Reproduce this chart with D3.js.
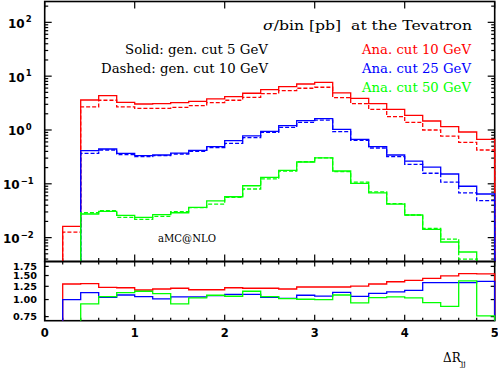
<!DOCTYPE html>
<html lang="en">
<head>
<meta charset="UTF-8">
<title>Delta R jj</title>
<style>
body { margin: 0; background: #fff; }
.lab { font-family: "DejaVu Serif", serif; fill: #000; }
.tick { font-family: "DejaVu Sans", sans-serif; font-weight: bold; fill: #000; }
</style>
</head>
<body>
<script src="https://d3js.org/d3.v7.min.js"></script>
<script>
// bin edges 0..5, width 0.2 (25 bins); 0 = empty bin
var edges = d3.range(26).map(function(i){ return +(i * 0.2).toFixed(1); });

var redSolid   = [0, 0.0162, 3.61, 4.34, 3.27, 3.04, 3.08, 3.22, 3.41, 3.77, 4.16, 4.81, 5.61, 6.38, 7.16, 7.70, 4.9, 3.88, 3.08, 2.42, 1.87, 1.47, 1.15, 0.918, 0.67];
var redDashed  = [0, 0.0126, 2.68, 3.57, 2.68, 2.53, 2.53, 2.64, 2.83, 3.22, 3.57, 4.05, 4.73, 5.38, 5.96, 6.22, 4.0, 3.08, 2.42, 1.77, 1.39, 1.0, 0.77, 0.59, 0.425];
var blueSolid  = [0, 0, 0.413, 0.443, 0.368, 0.333, 0.343, 0.373, 0.419, 0.49, 0.632, 0.774, 0.945, 1.20, 1.49, 1.62, 1.03, 0.67, 0.49, 0.343, 0.265, 0.205, 0.152, 0.090, 0.0646];
var blueDashed = [0, 0, 0.368, 0.425, 0.348, 0.319, 0.333, 0.358, 0.400, 0.469, 0.566, 0.72, 0.906, 1.12, 1.39, 1.53, 0.93, 0.643, 0.463, 0.319, 0.23, 0.157, 0.107, 0.068, 0.0485];
var greenSolid = [0, 0, 0.0275, 0.0308, 0.026, 0.0238, 0.0267, 0.029, 0.0366, 0.048, 0.0575, 0.092, 0.132, 0.178, 0.254, 0.302, 0.173, 0.102, 0.068, 0.042, 0.0263, 0.01426, 0.0083, 0.0054, 0.0026];
var greenDashed= [0, 0, 0.029, 0.0316, 0.0238, 0.0219, 0.0249, 0.0303, 0.036, 0.042, 0.056, 0.08, 0.124, 0.173, 0.257, 0.302, 0.168, 0.107, 0.071, 0.043, 0.0263, 0.0149, 0.0094, 0.0040, 0.0034];

// ratio solid / dashed (lower panel)
var redRatio   = [0, 1.30, 1.31, 1.23, 1.22, 1.175, 1.195, 1.21, 1.18, 1.18, 1.22, 1.21, 1.21, 1.195, 1.236, 1.236, 1.236, 1.256, 1.30, 1.35, 1.38, 1.43, 1.49, 1.55, 1.54];
var blueRatio  = [0, 1.00, 1.124, 1.04, 1.08, 1.05, 1.01, 1.045, 1.045, 1.07, 1.093, 1.093, 1.04, 1.02, 1.075, 1.06, 1.13, 1.055, 1.11, 1.137, 1.167, 1.33, 1.33, 1.33, 1.36];
var greenRatio = [0, 0, 0.93, 1.05, 1.124, 1.15, 1.105, 0.93, 1.028, 1.075, 1.057, 1.15, 1.05, 1.017, 1.005, 1.0, 1.08, 0.947, 1.033, 1.045, 1.028, 0.95, 0.89, 1.37, 0.76];

var xTicks = [0, 1, 2, 3, 4, 5];
var yMajor = [1e-2, 1e-1, 1, 10, 100];
var rTicks = [0.75, 1.0, 1.25, 1.5, 1.75];
var rLabels = ["0.75", "1.00", "1.25", "1.50", "1.75"];

var width = 498, height = 369;
var left = 44.7, plotW = 450;
var topY = 1.5, topH = 260;
var ratY = 261.5, ratH = 59.2;

var svg = d3.select("body").append("svg")
    .attr("width", width)
    .attr("height", height);

var x = d3.scaleLinear().domain([0, 5]).range([0, plotW]);
var y = d3.scaleLog().domain([0.0036, 244]).range([topH, 0]);
var yr = d3.scaleLog().domain([0.7, 1.9]).range([ratH, 0]);

var defs = svg.append("defs");
defs.append("clipPath").attr("id", "clipTop")
  .append("rect").attr("x", -2).attr("y", 0).attr("width", plotW + 4).attr("height", topH);
defs.append("clipPath").attr("id", "clipRat")
  .append("rect").attr("x", -2).attr("y", 0).attr("width", plotW + 4).attr("height", ratH);

var gTop = svg.append("g").attr("transform", "translate(" + left + "," + topY + ")");
var gRat = svg.append("g").attr("transform", "translate(" + left + "," + ratY + ")");

function tickLine(g, x1, y1, x2, y2) {
  g.append("line")
    .attr("x1", x1).attr("y1", y1).attr("x2", x2).attr("y2", y2)
    .attr("stroke", "#000").attr("stroke-width", 1.2);
}

// frames
[[gTop, topH], [gRat, ratH]].forEach(function(p){
  p[0].append("rect")
    .attr("width", plotW).attr("height", p[1])
    .attr("fill", "none").attr("stroke", "#000").attr("stroke-width", 1.6);
});

// x ticks
var xMinor = d3.range(26).map(function(i){ return i * 0.2; }).filter(function(v){ return Math.abs(v - Math.round(v)) > 1e-6; });
xTicks.forEach(function(t){
  tickLine(gTop, x(t), 0, x(t), 7);
  tickLine(gTop, x(t), topH, x(t), topH - 7);
  tickLine(gRat, x(t), 0, x(t), 5);
  tickLine(gRat, x(t), ratH, x(t), ratH - 6);
});
xMinor.forEach(function(t){
  tickLine(gTop, x(t), topH, x(t), topH - 3.5);
  tickLine(gRat, x(t), 0, x(t), 3);
  tickLine(gRat, x(t), ratH, x(t), ratH - 3);
});

// y ticks top panel
var yMinor = [];
d3.range(-3, 3).forEach(function(d){
  d3.range(2, 10).forEach(function(k){
    var v = k * Math.pow(10, d);
    if (v > y.domain()[0] && v < y.domain()[1]) yMinor.push(v);
  });
});
yMajor.forEach(function(v){
  tickLine(gTop, 0, y(v), 7, y(v));
  tickLine(gTop, plotW, y(v), plotW - 7, y(v));
});
yMinor.forEach(function(v){
  tickLine(gTop, 0, y(v), 3.5, y(v));
  tickLine(gTop, plotW, y(v), plotW - 3.5, y(v));
});
rTicks.forEach(function(v){
  tickLine(gRat, 0, yr(v), 4, yr(v));
  tickLine(gRat, plotW, yr(v), plotW - 4, yr(v));
});

// histogram step paths
function stepPath(vals, sc, h) {
  var pts = vals.map(function(v, i){ return [edges[i], v]; });
  pts.push([5, 0]);
  return d3.line()
    .curve(d3.curveStepAfter)
    .x(function(d){ return x(d[0]); })
    .y(function(d){ return d[1] > 0 ? sc(d[1]) : h + 20; })(pts);
}

var topSeries = [
  [redSolid, "#ff0000", null], [redDashed, "#ff0000", "4,2"],
  [blueSolid, "#0000ff", null], [blueDashed, "#0000ff", "4,2"],
  [greenSolid, "#00ff00", null], [greenDashed, "#00ff00", "4,2"]
];
var cTop = gTop.append("g").attr("clip-path", "url(#clipTop)");
topSeries.forEach(function(s){
  cTop.append("path")
    .attr("d", stepPath(s[0], y, topH))
    .attr("fill", "none")
    .attr("stroke", s[1])
    .attr("stroke-width", 1.3)
    .attr("stroke-dasharray", s[2]);
});

var cRat = gRat.append("g").attr("clip-path", "url(#clipRat)");
[[redRatio, "#ff0000"], [blueRatio, "#0000ff"], [greenRatio, "#00ff00"]].forEach(function(s){
  cRat.append("path")
    .attr("d", stepPath(s[0], yr, ratH))
    .attr("fill", "none")
    .attr("stroke", s[1])
    .attr("stroke-width", 1.3);
});

// tick labels
yMajor.forEach(function(v){
  var e = Math.round(Math.log10(v));
  var t = svg.append("text").attr("class", "tick")
    .attr("x", e < 0 ? 3 : 8)
    .attr("y", topY + y(v) + 5.5)
    .style("font-size", "12px")
    .text("10");
  t.append("tspan")
    .attr("dx", 1).attr("dy", -5.5)
    .style("font-size", "8.5px")
    .text(e < 0 ? "\u2212" + (-e) : e);
});
rTicks.forEach(function(v, i){
  svg.append("text").attr("class", "tick")
    .attr("x", 13).attr("y", ratY + yr(v) + 3.2)
    .attr("textLength", 24).attr("lengthAdjust", "spacingAndGlyphs")
    .style("font-size", "8.5px")
    .text(rLabels[i]);
});
xTicks.forEach(function(t){
  svg.append("text").attr("class", "tick")
    .attr("x", left + x(t)).attr("y", 337)
    .attr("text-anchor", "middle")
    .style("font-size", "11.5px")
    .text(t);
});

// annotations
function label(txt, px, py, len, size, col) {
  return svg.append("text").attr("class", "lab")
    .attr("x", px).attr("y", py)
    .attr("textLength", len).attr("lengthAdjust", "spacingAndGlyphs")
    .style("font-size", size + "px")
    .style("fill", col || "#000")
    .text(txt);
}
var title = svg.append("text").attr("class", "lab")
  .attr("x", 263).attr("y", 29.5)
  .attr("textLength", 209).attr("lengthAdjust", "spacingAndGlyphs")
  .style("font-size", "13px");
title.append("tspan").style("font-style", "italic").text("\u03c3");
title.append("tspan").attr("xml:space", "preserve").text("/bin [pb]  at the Tevatron");

label("Solid: gen. cut 5 GeV", 125, 54, 143, 12.5);
label("Dashed: gen. cut 10 GeV", 101, 73, 167, 12.5);
label("Ana. cut 10 GeV", 362, 54, 109, 12.5, "#ff0000");
label("Ana. cut 25 GeV", 362, 73, 109, 12.5, "#0000ff");
label("Ana. cut 50 GeV", 362, 92, 109, 12.5, "#00ff00");
label("aMC@NLO", 158, 242, 58, 10.5);

var xl = svg.append("text").attr("class", "lab")
  .attr("x", 443).attr("y", 362)
  .style("font-size", "12px")
  .text("\u0394R");
xl.append("tspan").attr("dy", 3.5).style("font-size", "8px").text("jj");
</script>
</body>
</html>
